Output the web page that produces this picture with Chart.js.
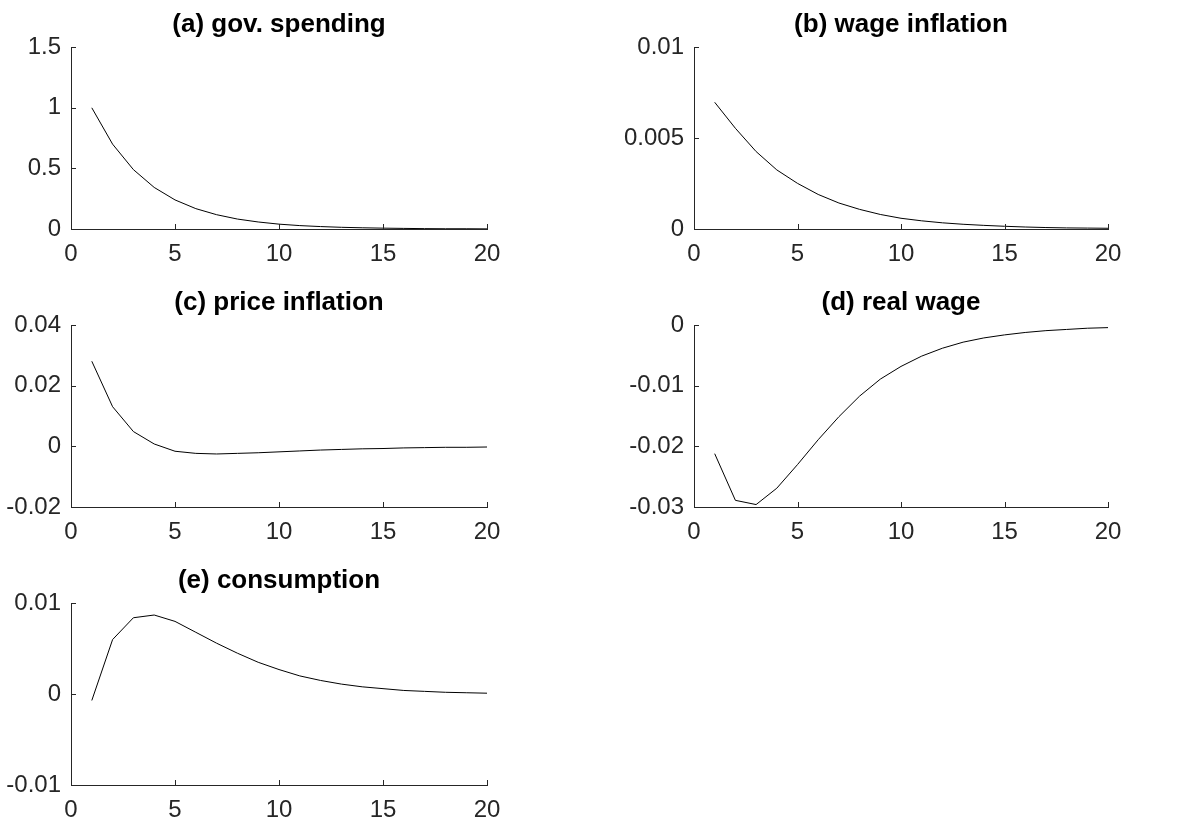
<!DOCTYPE html>
<html>
<head>
<meta charset="utf-8">
<script src="https://cdn.jsdelivr.net/npm/chart.js@4.4.1/dist/chart.umd.min.js"></script>
<style>
  body { margin: 0; background: #fff; }
  #wrap { position: relative; width: 1202px; height: 825px; }
  #wrap canvas { position: absolute; }
</style>
</head>
<body>
<div id="wrap">
  <canvas id="chartA" width="520" height="270" style="left:0px;top:0px"></canvas>
  <canvas id="chartB" width="520" height="270" style="left:623px;top:0px"></canvas>
  <canvas id="chartC" width="520" height="270" style="left:0px;top:278px"></canvas>
  <canvas id="chartD" width="520" height="270" style="left:623px;top:278px"></canvas>
  <canvas id="chartE" width="520" height="270" style="left:0px;top:556px"></canvas>
</div>
<script>
let periods = [1, 2, 3, 4, 5, 6, 7, 8, 9, 10, 11, 12, 13, 14, 15, 16, 17, 18, 19, 20];

let govSpending = [1, 0.7, 0.49, 0.343, 0.24, 0.168, 0.118, 0.082, 0.058, 0.04,
                   0.028, 0.02, 0.014, 0.01, 0.007, 0.005, 0.003, 0.002, 0.002, 0.001];

let wageInflation = [0.00697, 0.00554, 0.00426, 0.00325, 0.00251, 0.0019, 0.00143, 0.00108, 0.0008, 0.00059,
                     0.00045, 0.00034, 0.00026, 0.0002, 0.00015, 0.00011, 0.00008, 0.00006, 0.00005, 0.00004];

let priceInflation = [0.0281, 0.0131, 0.0049, 0.0008, -0.0016, -0.0023, -0.0025, -0.0023, -0.0021, -0.0018,
                      -0.0015, -0.0012, -0.001, -0.0008, -0.0007, -0.0005, -0.0004, -0.0003, -0.0003, -0.0002];

let realWage = [-0.0212, -0.0289, -0.0296, -0.0269, -0.023, -0.0189, -0.0151, -0.0117, -0.0089, -0.0068,
                -0.0051, -0.0038, -0.0028, -0.0021, -0.0016, -0.0012, -0.0009, -0.0007, -0.0005, -0.0004];

let consumption = [-0.0007, 0.006, 0.0084, 0.0087, 0.008, 0.0068, 0.0056, 0.0045, 0.0035, 0.0027,
                   0.002, 0.0015, 0.0011, 0.0008, 0.0006, 0.0004, 0.0003, 0.0002, 0.00015, 0.0001];

let xTicks = [0, 5, 10, 15, 20];

let axisColor = '#262626';
let fontFamily = '"Liberation Sans", Arial, Helvetica, sans-serif';

// MATLAB style ticks point into the plot
let inwardTicks = {
    id: 'inwardTicks',
    afterDraw(chart) {
        let ctx = chart.ctx;
        let area = chart.chartArea;
        let xs = chart.scales.x;
        let ys = chart.scales.y;
        ctx.save();
        ctx.strokeStyle = axisColor;
        ctx.lineWidth = 1;
        ctx.beginPath();
        xs.ticks.forEach(t => {
            let px = Math.round(xs.getPixelForValue(t.value)) + 0.5;
            ctx.moveTo(px, area.bottom);
            ctx.lineTo(px, area.bottom - 5);
        });
        ys.ticks.forEach(t => {
            let py = Math.round(ys.getPixelForValue(t.value)) + 0.5;
            ctx.moveTo(area.left, py);
            ctx.lineTo(area.left + 5, py);
        });
        ctx.stroke();
        ctx.restore();
    }
};

function fmt(v) {
    return String(Number(v.toFixed(6)));
}

function makePanel(id, title, values, yMin, yMax, yStep, plotWidth) {
    let points = periods.map((p, i) => ({ x: p, y: values[i] }));

    return new Chart(document.getElementById(id), {
        type: 'line',
        data: {
            datasets: [{
                data: points,
                borderColor: '#000',
                borderWidth: 1,
                pointRadius: 0,
                tension: 0,
                fill: false
            }]
        },
        options: {
            responsive: false,
            animation: false,
            devicePixelRatio: 1,
            layout: { padding: { left: 0, top: 0, right: 520 - 71 - plotWidth, bottom: 0 } },
            plugins: {
                legend: { display: false },
                tooltip: { enabled: false },
                title: {
                    display: true,
                    text: title,
                    fullSize: false,
                    color: '#000',
                    font: { family: fontFamily, size: 26, weight: 'bold', lineHeight: 1.2 },
                    padding: { top: 9, bottom: 7 }
                }
            },
            scales: {
                x: {
                    type: 'linear',
                    min: 0,
                    max: 20,
                    afterBuildTicks: s => { s.ticks = xTicks.map(v => ({ value: v })); },
                    afterFit: s => { s.height = 41; },
                    grid: { display: false, drawTicks: false },
                    border: { display: true, color: axisColor, width: 1 },
                    ticks: {
                        color: axisColor,
                        padding: 11,
                        maxRotation: 0,
                        font: { family: fontFamily, size: 24 },
                        callback: v => fmt(v)
                    }
                },
                y: {
                    type: 'linear',
                    min: yMin,
                    max: yMax,
                    afterBuildTicks: s => {
                        let list = [];
                        for (let k = 0; yMin + k * yStep <= yMax + yStep / 1000; k++) {
                            list.push({ value: Number((yMin + k * yStep).toFixed(6)) });
                        }
                        s.ticks = list;
                    },
                    afterFit: s => { s.width = 71; },
                    grid: { display: false, drawTicks: false },
                    border: { display: true, color: axisColor, width: 1 },
                    ticks: {
                        color: axisColor,
                        padding: 10,
                        font: { family: fontFamily, size: 24 },
                        callback: v => fmt(v)
                    }
                }
            }
        },
        plugins: [inwardTicks]
    });
}

makePanel('chartA', '(a) gov. spending', govSpending, 0, 1.5, 0.5, 416);
makePanel('chartB', '(b) wage inflation', wageInflation, 0, 0.01, 0.005, 414);
makePanel('chartC', '(c) price inflation', priceInflation, -0.02, 0.04, 0.02, 416);
makePanel('chartD', '(d) real wage', realWage, -0.03, 0, 0.01, 414);
makePanel('chartE', '(e) consumption', consumption, -0.01, 0.01, 0.01, 416);
</script>
</body>
</html>
